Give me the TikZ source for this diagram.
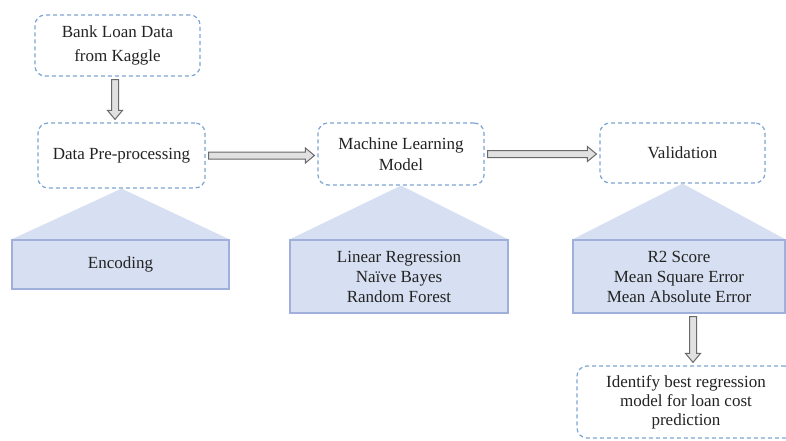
\documentclass[tikz,border=0pt]{standalone}
\usepackage{fontspec}
\setmainfont{Liberation Serif}
\usetikzlibrary{calc}
\definecolor{dashblue}{RGB}{125,165,210}
\definecolor{boxfill}{RGB}{215,224,242}
\definecolor{boxline}{RGB}{160,176,218}
\definecolor{txt}{RGB}{35,35,35}
\definecolor{arrline}{RGB}{105,105,105}
\definecolor{arrfill}{RGB}{225,225,225}
\newcommand{\hdown}[3]{%
  \draw[harrow] let \p1=($(#1.south)+(#3,-3pt)$), \p2=($(#2.north)+(#3,3pt)$) in
    (\x1-3.5pt,\y1) -- (\x1-3.5pt,\y2+9pt) -- (\x1-7.5pt,\y2+9pt) -- (\x1,\y2)
    -- (\x1+7.5pt,\y2+9pt) -- (\x1+3.5pt,\y2+9pt) -- (\x1+3.5pt,\y1) -- cycle;}
\newcommand{\hright}[2]{%
  \draw[harrow] let \p1=($(#1.east)+(3pt,0)$), \p2=($(#2.west)+(-3pt,0)$) in
    (\x1,\y1-3.5pt) -- (\x2-9pt,\y1-3.5pt) -- (\x2-9pt,\y1-7.5pt) -- (\x2,\y1)
    -- (\x2-9pt,\y1+7.5pt) -- (\x2-9pt,\y1+3.5pt) -- (\x1,\y1+3.5pt) -- cycle;}
\begin{document}
\begin{tikzpicture}[x=1pt,y=1pt,
  dbox/.style={draw=dashblue, dash pattern=on 4pt off 3pt, line width=1.2pt,
    rounded corners=10pt, align=center, text=txt, inner sep=0pt,
    font=\fontsize{17}{21}\selectfont},
  fbox/.style={draw=boxline, fill=boxfill, line width=1.1pt, align=center,
    text=txt, inner sep=0pt, font=\fontsize{17}{20}\selectfont},
  harrow/.style={draw=arrline, fill=arrfill, line width=1pt, line join=miter}]
\clip (0,0) rectangle (786,-441);
\fill[white] (0,0) rectangle (786,-441);

\node[dbox, minimum width=165, minimum height=61, font=\fontsize{17}{24}\selectfont] (src) at (117.5,-45.5) {Bank Loan Data\\from Kaggle};
\node[dbox, minimum width=167, minimum height=65] (pre) at (121.5,-155.5) {Data Pre-processing};
\node[dbox, minimum width=166, minimum height=62] (ml) at (401,-154) {Machine Learning\\Model};
\node[dbox, minimum width=165, minimum height=60] (val) at (682.5,-153) {Validation};

\node[fbox, minimum width=217, minimum height=49] (enc) at (120.5,-264.5) {Encoding};
\node[fbox, minimum width=218, minimum height=73] (mlr) at (399,-276.5) {Linear Regression\\Naïve Bayes\\Random Forest};
\node[fbox, minimum width=212, minimum height=73] (valr) at (679,-276.5) {R2 Score\\Mean Square Error\\Mean Absolute Error};

\fill[boxfill] (pre.south) -- (enc.north west) -- (enc.north east) -- cycle;
\fill[boxfill] (ml.south) -- (mlr.north west) -- (mlr.north east) -- cycle;
\fill[boxfill] (val.south) -- (valr.north west) -- (valr.north east) -- cycle;
\draw[boxline, line width=1.1pt] (enc.north west) rectangle (enc.south east);
\draw[boxline, line width=1.1pt] (mlr.north west) rectangle (mlr.south east);
\draw[boxline, line width=1.1pt] (valr.north west) rectangle (valr.south east);

\node[dbox, minimum width=218, minimum height=72, font=\fontsize{17}{19}\selectfont] (fin) at (686,-402) {Identify best regression\\model for loan cost\\prediction};

\hdown{src}{pre}{-2.5pt}
\hright{pre}{ml}
\hright{ml}{val}
\hdown{valr}{fin}{14pt}
\end{tikzpicture}
\end{document}
